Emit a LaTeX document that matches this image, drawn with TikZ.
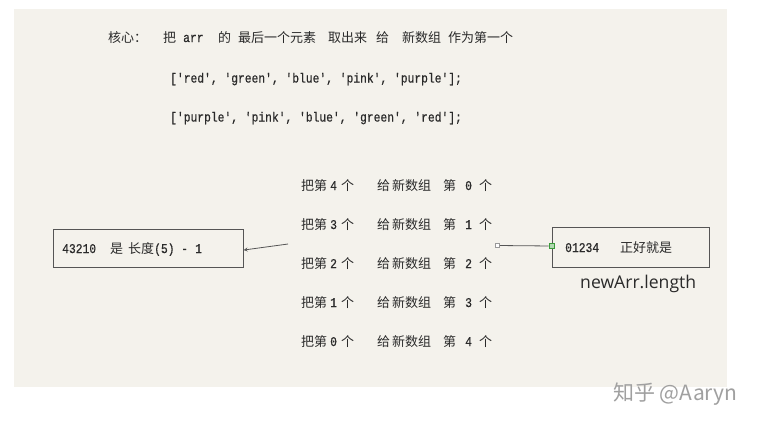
\documentclass[tikz,border=0pt]{standalone}
\usepackage{fontspec}
\newfontfamily\cjkf{Noto Sans CJK SC}
\newfontfamily\monof[FakeStretch=0.85,FakeBold=0.6]{Liberation Mono}
\newfontfamily\sansf{Open Sans}
\definecolor{bgc}{HTML}{F4F2EC}
\definecolor{txt}{HTML}{2A2A2A}
\definecolor{boxc}{HTML}{555555}
\definecolor{wm}{HTML}{A0A0A0}
\definecolor{grn}{HTML}{3A9A3A}
\tikzset{
  t/.style={anchor=base west, inner sep=0pt, text=txt, font=\cjkf\fontsize{13}{13}\selectfont},
  m/.style={t, font=\monof\fontsize{13.3}{13.3}\selectfont},
  frame/.style={draw=boxc, line width=1.1pt, anchor=north west, inner sep=0pt},
  conn/.style={draw=boxc, line width=0.8pt},
}
\begin{document}
\begin{tikzpicture}[x=1pt,y=-1pt]
\useasboundingbox (0,0) rectangle (766,424);
\fill[white] (0,0) rectangle (766,424);
\fill[bgc] (14,9) rectangle (727,387);
% top line
\node[t] (k0) at (108,42) {核心：};
\node[t] (k1) at (163,42) {把};
\node[m] (k2) at (183,42) {arr};
\node[t] (k3) at (218,42) {的};
\node[t] (k4) at (238,42) {最后一个元素};
\node[t] (k5) at (328,42) {取出来};
\node[t] (k6) at (376,42) {给};
\node[t] (k7) at (402,42) {新数组};
\node[t] (k8) at (448,42) {作为第一个};
% arrays
\node[m] (a1) at (170,82.5) {['red', 'green', 'blue', 'pink', 'purple'];};
\node[m] (a2) at (170,121.5) {['purple', 'pink', 'blue', 'green', 'red'];};
% rows
\foreach \i/\src in {0/4,1/3,2/2,3/1,4/0}{
  \pgfmathsetmacro{\yy}{190+39*\i}
  \node[t] (ra\i) at (301,\yy) {把第};
  \node[m] (rb\i) at (330,\yy) {\src};
  \node[t] (rc\i) at (341,\yy) {个};
  \node[t] (rd\i) at (377,\yy) {给};
  \node[t] (re\i) at (392,\yy) {新数组};
  \node[t] (rf\i) at (443,\yy) {第};
  \node[m] (rg\i) at (465,\yy) {\i};
  \node[t] (rh\i) at (479,\yy) {个};
}
% left box
\node[frame, minimum width=190pt, minimum height=38pt] (lbox) at (52.5,229) {};
\node[m] (l1) at (62,253) {43210};
\node[t] (l2) at (110,253) {是};
\node[t] (l3) at (128,253) {长度};
\node[m] (l4) at (154,253) {(5)};
\node[m] (l5) at (181,253) {-};
\node[m] (l6) at (195,253) {1};
\coordinate (la) at (288,244);
\draw[conn, -stealth] (la) -- ([yshift=-1.5pt]lbox.east);
% right box
\node[frame, minimum width=157pt, minimum height=39.5pt] (rbox) at (551.5,227) {};
\node[m] (r1) at (565,252) {01234};
\node[t] (r2) at (620,252) {正好就是};
\node[draw=boxc!60, fill=white, line width=0.5pt, minimum size=4pt, inner sep=0pt] (rs) at (497.5,245.5) {};
\node[draw=grn, fill=grn!40, line width=0.6pt, minimum size=5pt, inner sep=0pt] (gs) at (551.5,246) {};
\draw[conn] (rs) -- (gs);
\node[anchor=base west, inner sep=0pt, text=txt, font=\sansf\fontsize{17.6}{17.6}\selectfont] (nl) at (580,288) {newArr.length};
% watermark
\node[anchor=base west, inner sep=0pt, text=wm, font=\cjkf\fontsize{21}{21}\selectfont] (wmk) at (613,400) {知乎 @Aaryn};
\end{tikzpicture}
\end{document}
